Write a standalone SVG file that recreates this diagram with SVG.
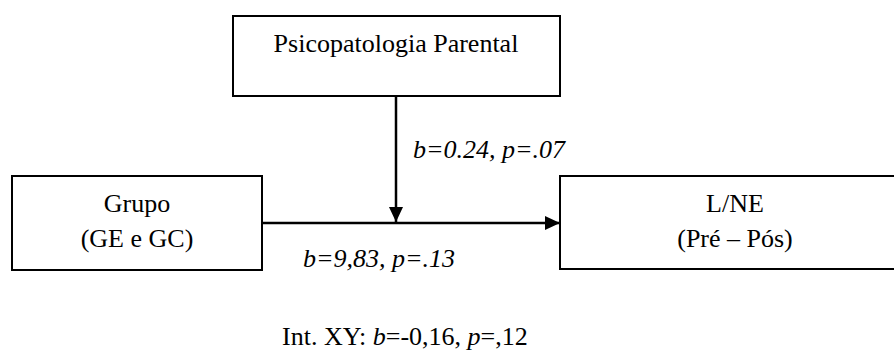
<svg xmlns="http://www.w3.org/2000/svg" width="894" height="354" viewBox="0 0 894 354">
<style>
.box{fill:#fff;stroke:#000;stroke-width:2}
.t{font-family:"Liberation Serif","Times New Roman",serif;font-size:26px;fill:#000}
.i{font-style:italic}
.c{stroke:#000;stroke-width:2.5;fill:none}
</style>
<defs>
<marker id="ah" viewBox="0 0 15 14" refX="15" refY="7" markerWidth="15" markerHeight="14" markerUnits="userSpaceOnUse" orient="auto">
<path d="M0,0 L15,7 L0,14 Z" fill="#000"/>
</marker>
</defs>
<rect width="894" height="354" fill="#fff"/>
<g id="connectors">
<line class="c" x1="262" y1="223" x2="560" y2="223" marker-end="url(#ah)"/>
<line class="c" x1="396" y1="97" x2="396" y2="222" marker-end="url(#ah)"/>
</g>
<g id="psicopatologia">
<rect class="box" x="233" y="16" width="327" height="80"/>
<text class="t" x="396" y="52" text-anchor="middle">Psicopatologia Parental</text>
</g>
<g id="grupo">
<rect class="box" x="12" y="176" width="250" height="94"/>
<text class="t" x="137" y="212" text-anchor="middle">Grupo</text>
<text class="t" x="137" y="247" text-anchor="middle">(GE e GC)</text>
</g>
<g id="lne">
<rect class="box" x="560" y="176" width="340" height="93"/>
<text class="t" x="735" y="212" text-anchor="middle">L/NE</text>
<text class="t" x="735" y="247" text-anchor="middle">(Pré – Pós)</text>
</g>
<text class="t i" x="413" y="158">b=0.24, p=.07</text>
<text class="t i" x="303" y="267">b=9,83, p=.13</text>
<text class="t" x="282" y="345">Int. XY: <tspan class="i">b</tspan>=-0,16, <tspan class="i">p</tspan>=,12</text>
</svg>
